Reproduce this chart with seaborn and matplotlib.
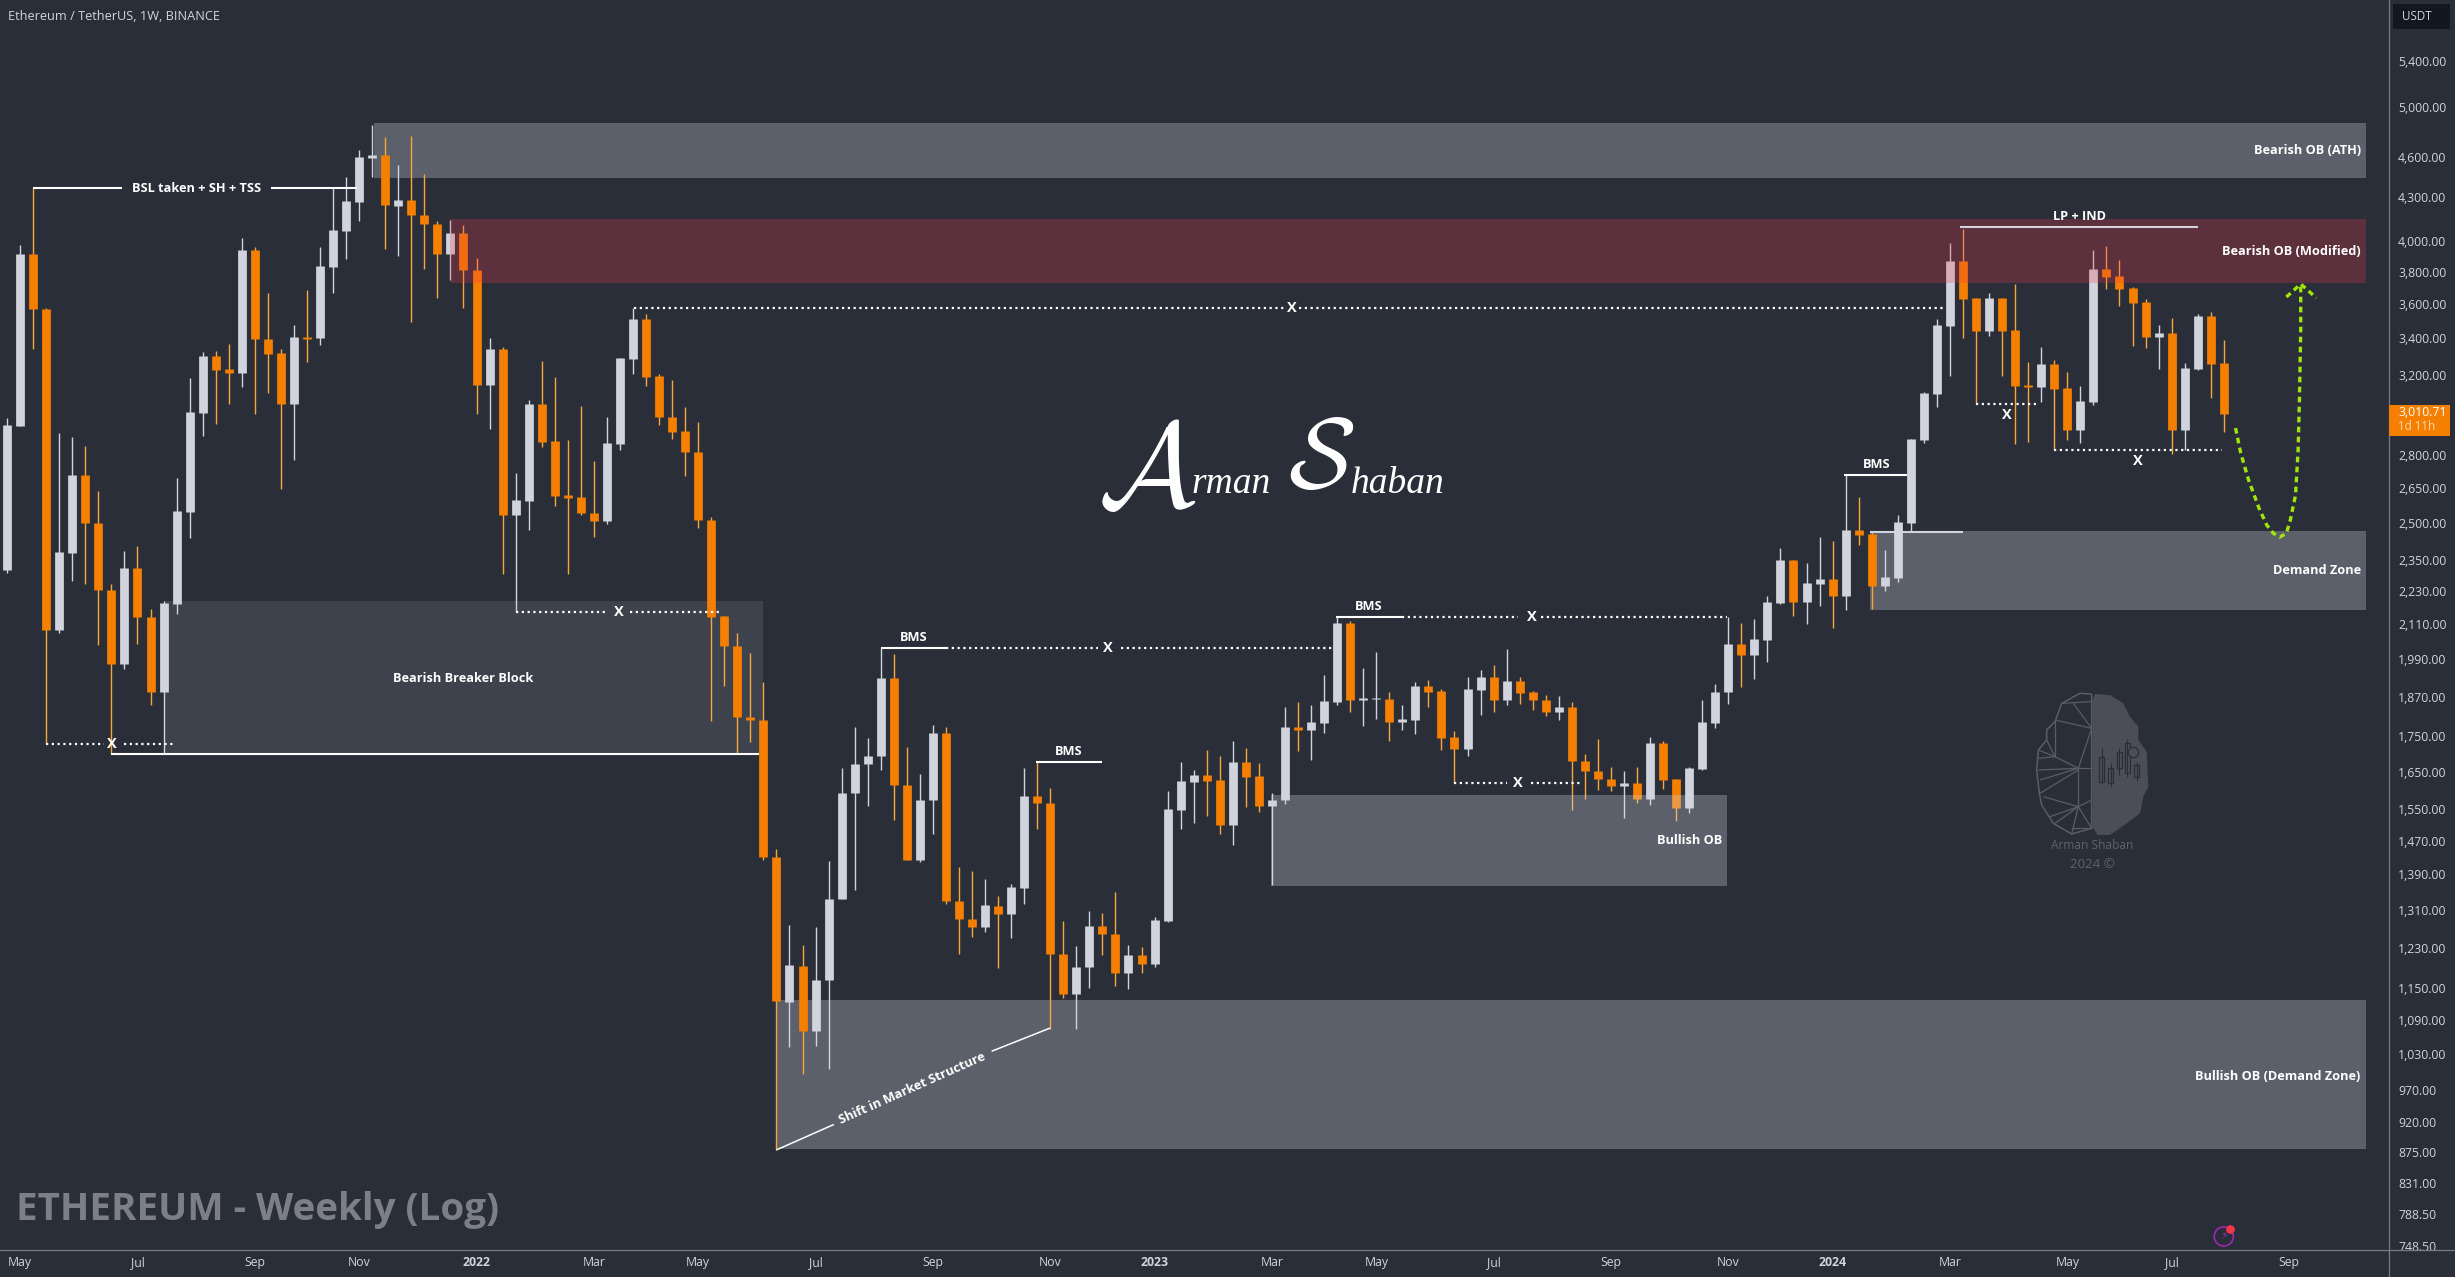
import numpy as np
import pandas as pd
import seaborn as sns
import matplotlib
matplotlib.use('Agg')
import matplotlib.pyplot as plt
from matplotlib.patches import Rectangle
from matplotlib.ticker import FixedLocator, NullLocator

# weekly ETH/USDT candles
open_ = [2311,2938,3913,3567,2091,2375,2706,2500,2235,1975,2317,2134,1886,2184,2546,3003,3301,3228,3207,
         3938,3393,3315,3049,3408,3401,3829,4069,4268,4595,4615,4240,4280,4179,4116,3910,4051,3812,3143,
         3340,2530,2593,3046,2863,2617,2608,2542,2506,2850,3283,3510,3192,2980,2911,2813,2512,2139,2035,
         1808,1799,1432,1124,1193,1071,1165,1334,1593,1671,1693,1929,1615,1423,1574,1759,1330,1291,1274,
         1319,1302,1360,1584,1565,1218,1139,1192,1276,1259,1180,1215,1197,1286,1548,1623,1641,1626,1510,
         1677,1637,1559,1574,1777,1769,1790,1854,2114,1858,1862,1864,1794,1799,1903,1887,1747,1715,1892,
         1932,1858,1920,1884,1859,1823,1837,1681,1653,1631,1611,1618,1577,1731,1629,1553,1657,1790,1885,
         2041,2004,2056,2186,2348,2191,2257,2274,2213,2469,2452,2250,2280,2499,2870,3099,3472,3867,3634,
         3443,3634,3445,3144,3136,3257,3127,2919,3058,3814,3769,3695,3609,3409,3428,2919,3230,3526,3260]
close = [2940,3913,3567,2091,2380,2706,2500,2235,1975,2317,2134,1886,2186,2548,3007,3301,3226,3209,3938,
         3393,3313,3049,3408,3398,3834,4072,4274,4601,4615,4243,4280,4179,4116,3910,4051,3812,3143,3340,
         2530,2596,3046,2861,2615,2606,2542,2508,2854,3290,3510,3188,2980,2908,2813,2512,2136,2035,1808,
         1799,1432,1125,1195,1071,1166,1334,1593,1671,1693,1929,1615,1423,1574,1759,1330,1291,1274,1320,
         1302,1361,1585,1565,1218,1139,1191,1276,1259,1180,1216,1198,1288,1550,1624,1641,1625,1510,1677,
         1636,1559,1575,1777,1770,1793,1857,2114,1858,1865,1865,1794,1801,1903,1885,1746,1715,1894,1932,
         1858,1920,1882,1858,1823,1837,1680,1653,1630,1611,1619,1577,1731,1628,1553,1659,1793,1886,2041,
         2006,2058,2189,2348,2191,2260,2275,2213,2469,2450,2250,2283,2502,2874,3101,3474,3867,3632,3443,
         3636,3443,3141,3134,3257,3125,2919,3062,3814,3767,3693,3607,3409,3428,2919,3235,3528,3258,2998]
high = [2977,3970,4368,3575,2902,2883,2840,2634,2255,2384,2405,2164,2192,2692,3182,3323,3328,3366,4016,
        3956,3666,3337,3475,3685,3961,4365,4447,4655,4851,4757,4538,4764,4470,4131,4140,4110,3888,3401,
        3349,2715,3066,3273,3186,2869,3035,2771,2981,3290,3578,3542,3201,3169,3031,2956,2522,2139,2081,
        2011,1915,1450,1277,1236,1274,1421,1659,1779,1745,2027,2007,1719,1644,1785,1779,1407,1397,1380,
        1340,1368,1659,1676,1605,1287,1233,1307,1303,1349,1235,1231,1294,1597,1677,1656,1710,1693,1738,
        1716,1674,1592,1837,1853,1844,1939,2135,2120,1962,2014,1884,1844,1916,1922,1894,1765,1932,1955,
        1971,2025,1932,1887,1875,1872,1853,1699,1741,1664,1652,1664,1747,1738,1631,1664,1861,1909,2135,
        2114,2127,2210,2396,2348,2335,2440,2424,2706,2609,2462,2388,2531,2875,3110,3509,3987,4079,3636,
        3664,3638,3722,3267,3350,3277,3213,3139,3939,3965,3874,3701,3628,3476,3516,3262,3538,3550,3390]
low = [2299,2938,3337,1728,2078,2269,2255,2039,1699,1959,2043,1843,1700,2148,2438,2890,2945,3049,3136,
       2998,3104,2646,2777,3266,3361,3669,3882,4137,4447,3947,3899,3495,3818,3637,3744,3577,2994,2923,
       2296,2154,2470,2834,2572,2296,2530,2441,2495,2824,3201,3137,2944,2876,2704,2479,1797,1902,1700,
       1735,1423,878,1043,997,1044,1005,1334,1355,1557,1654,1523,1423,1420,1486,1324,1218,1253,1262,
       1190,1250,1324,1500,1075,1131,1075,1151,1215,1154,1148,1180,1192,1284,1500,1515,1533,1487,1461,
       1556,1543,1366,1564,1709,1683,1760,1845,1823,1781,1802,1737,1769,1757,1838,1711,1620,1695,1814,
       1823,1845,1848,1830,1812,1799,1549,1577,1601,1598,1527,1567,1561,1604,1520,1540,1655,1776,1848,
       1901,1927,1982,2182,2140,2112,2176,2098,2162,2409,2165,2231,2265,2462,2853,3033,3194,3403,3048,
       3414,3194,2848,2861,3057,2821,2870,2856,3043,3693,3589,3358,3347,3231,2804,2821,3226,3079,2909]

price_ticks = [5400,5000,4600,4300,4000,3800,3600,3400,3200,2800,2650,2500,2350,2230,2110,1990,1870,1750,
               1650,1550,1470,1390,1310,1230,1150,1090,1030,970,920,875,831,788.5,748.5]
time_pos = [1,10,19,27,36,45,53,62,71,80,88,97,105,114,123,132,140,149,158,166,175]
time_labels = ['May','Jul','Sep','Nov','2022','Mar','May','Jul','Sep','Nov','2023','Mar','May','Jul','Sep',
               'Nov','2024','Mar','May','Jul','Sep']

# zones: first candle, last candle, top price, bottom price
zone_ath = (28.1, 180.9, 4868, 4441)
zone_red = (34.0, 180.9, 4148, 3728)
zone_breaker = (12.0, 58.0, 2193, 1699)
zone_bull_ob = (96.9, 131.9, 1587, 1363)
zone_bull_demand = (59.0, 180.9, 1127, 880)
zone_demand = (142.9, 180.9, 2465, 2160)

# structure lines: from, to, price
solid_lines = [(2.0,8.8,4368),(20.2,26.8,4368),(8.0,57.7,1699),(67.0,72.0,2028),(78.9,84.0,1676),
               (101.9,107.0,2137),(140.9,145.7,2706)]
grey_lines = [(142.9,150.0,2461),(149.8,168.0,4095)]
dotted_lines = [(3.0,7.4,1729),(9.0,12.9,1729),(48.1,97.9,3575),(99.1,148.5,3575),(39.0,46.1,2153),
                (47.8,54.8,2153),(72.0,83.7,2028),(85.4,101.6,2028),(107.0,115.9,2137),(117.6,131.9,2137),
                (111.0,115.0,1620),(116.9,120.8,1620),(151.0,155.7,3047),(157.0,169.9,2821)]
x_marks = [(8.0,1729),(98.5,3575),(46.9,2153),(84.4,2028),(116.9,2137),(115.9,1620),(153.4,2991),(163.4,2770)]

curve_x = [170.9,171.3,171.9,172.7,173.3,173.8,174.3,174.8,175.1,175.5,175.7,175.8,175.9,175.9]
curve_y = [2927,2807,2684,2561,2489,2456,2440,2456,2510,2617,2821,3067,3447,3709]
arrow_x = [174.8,175.9,177.1]
arrow_y = [3642,3722,3636]

BG = '#2a2e39'
WHITE = '#d1d4dc'
ORANGE = '#f57f00'
WICK_ORANGE = '#f7a63c'
AXIS = '#787b86'
W, H = 2455, 1277

sns.set_theme(style='dark', rc={'axes.facecolor': BG, 'figure.facecolor': BG, 'lines.solid_capstyle': 'butt'})
plt.rcParams['font.family'] = ['Open Sans', 'DejaVu Sans']
plt.rcParams['mathtext.fontset'] = 'cm'

fig = plt.figure(figsize=(W/100, H/100), dpi=100)
ax = fig.add_axes([0, 1-1250/H, 2389/W, 1250/H])
ax.set_yscale('log')

# zones under the candles
def zone(z, color, alpha, order):
    ax.fill_between(z[:2], z[3], z[2], color=color, alpha=alpha, lw=0, zorder=order)

zone(zone_ath, WHITE, 0.30, 1)
zone(zone_breaker, WHITE, 0.125, 1)
zone(zone_bull_demand, WHITE, 0.30, 1)
zone(zone_demand, WHITE, 0.30, 1)

idx = np.arange(len(open_))
direction = np.where(np.array(close) >= np.array(open_), 'up', 'down')
wicks = pd.DataFrame({'i': np.repeat(idx, 2), 'price': np.column_stack([low, high]).ravel(),
                      'dir': np.repeat(direction, 2)})
bodies = pd.DataFrame({'i': np.repeat(idx, 2), 'price': np.column_stack([open_, close]).ravel(),
                       'dir': np.repeat(direction, 2)})
sns.lineplot(data=wicks, x='i', y='price', hue='dir', units='i', estimator=None, sort=False,
             palette={'up': WHITE, 'down': WICK_ORANGE}, linewidth=1.0, legend=False, ax=ax, zorder=3)
sns.lineplot(data=bodies, x='i', y='price', hue='dir', units='i', estimator=None, sort=False,
             palette={'up': WHITE, 'down': ORANGE}, linewidth=6.3, legend=False, ax=ax, zorder=4)

# these two sit on top of the candles
zone(zone_red, '#f23645', 0.25, 5)
zone(zone_bull_ob, WHITE, 0.30, 5)

for x0, x1, p in solid_lines:
    ax.plot([x0, x1], [p, p], color='white', lw=1.5, zorder=6)
for x0, x1, p in grey_lines:
    ax.plot([x0, x1], [p, p], color=WHITE, lw=1.5, zorder=6)
for x0, x1, p in dotted_lines:
    ax.plot([x0, x1], [p, p], color='white', lw=1.6, ls=(0, (1, 1.6)), zorder=6)
ax.plot([59.0, 63.4], [878, 916], color='white', lw=1.1, zorder=6)
ax.plot([75.5, 80.0], [1035, 1076], color='white', lw=1.1, zorder=6)

bold = dict(color='white', fontweight='bold', fontsize=9.2, va='center', zorder=7)
ax.text(14.5, 4368, 'BSL taken + SH + TSS', ha='center', **bold)
ax.text(35.0, 1927, 'Bearish Breaker Block', ha='center', **bold)
ax.text(69.5, 2064, 'BMS', ha='center', **bold)
ax.text(81.4, 1706, 'BMS', ha='center', **bold)
ax.text(104.4, 2173, 'BMS', ha='center', **bold)
ax.text(143.4, 2754, 'BMS', ha='center', **bold)
ax.text(158.9, 4165, 'LP + IND', ha='center', **bold)
ax.text(180.5, 4650, 'Bearish OB (ATH)', ha='right', **bold)
ax.text(180.5, 3929, 'Bearish OB (Modified)', ha='right', **bold)
ax.text(180.5, 2307, 'Demand Zone', ha='right', **bold)
ax.text(180.5, 993, 'Bullish OB (Demand Zone)', ha='right', **bold)
ax.text(131.5, 1470, 'Bullish OB', ha='right', **bold)
ax.text(69.4, 973, 'Shift in Market Structure', ha='center', rotation=24, rotation_mode='anchor', **bold)
for x, p in x_marks:
    ax.text(x, p, 'X', ha='center', color='white', fontweight='bold', fontsize=10.5, va='center', zorder=7)

# projected path
ax.plot(curve_x, curve_y, color='#a0e60a', lw=2.4, ls=(0, (1.7, 1.3)), zorder=7)
ax.plot(arrow_x, arrow_y, color='#a0e60a', lw=2.4, ls=(0, (1.7, 1.3)), zorder=7)

# signature
ax.text(87.4, 2706, r'$\mathcal{A}$', color='white', fontsize=86, ha='center', va='center', zorder=7)
ax.text(100.8, 2766, r'$\mathcal{S}$', color='white', fontsize=72, ha='center', va='center', zorder=7)
ax.text(93.9, 2626, 'rman', color='white', fontsize=27, family='Liberation Serif', style='italic',
        ha='center', va='baseline', zorder=7)
ax.text(106.6, 2626, 'haban', color='white', fontsize=27, family='Liberation Serif', style='italic',
        ha='center', va='baseline', zorder=7)

# small alert icon near the bottom
ax.scatter([170.0], [760], s=190, facecolors='none', edgecolors='#9c27b0', linewidths=1.2, zorder=7)
ax.scatter([170.5], [769], s=28, color='#f23645', zorder=8)
ax.text(170.0, 760, '\u26a1', color='#9c27b0', fontsize=8, ha='center', va='center',
        family='DejaVu Sans', zorder=8)

ax.text(0.7, 794, 'ETHEREUM - Weekly (Log)', color='#7c7f88', fontweight='bold', fontsize=27.7,
        ha='left', va='center', zorder=7)
ax.text(0.0035, 0.9865, 'Ethereum / TetherUS, 1W, BINANCE', color=WHITE, fontsize=9.2,
        transform=ax.transAxes, ha='left', va='center', zorder=7)

ax.set_xlim(-0.545, 182.67)
ax.set_ylim(743, 5977)
ax.set(xlabel='', ylabel='')
ax.xaxis.set_major_locator(NullLocator())
ax.yaxis.tick_right()
ax.yaxis.set_major_locator(FixedLocator(price_ticks))
ax.yaxis.set_minor_locator(NullLocator())
ax.set_yticklabels([f'{v:,.2f}' for v in price_ticks])
ax.tick_params(axis='y', length=0, pad=6.5, labelsize=8.8, labelcolor=WHITE)
for name, spine in ax.spines.items():
    spine.set_visible(name == 'right')
    spine.set_color(AXIS)
    spine.set_linewidth(0.9)

# time strip, also hides the cut-off last price label
ax_time = fig.add_axes([0, 0, 1, 27/H], zorder=5)
ax_time.set_facecolor(BG)
ax_time.set_xlim(-0.545, (W-7.1)/13.04)
ax_time.set_ylim(0, 1)
ax_time.set_yticks([])
ax_time.set_xticks(time_pos, time_labels)
ax_time.tick_params(axis='x', length=0, pad=-15, labelsize=8.8, labelcolor=WHITE)
for lab in ax_time.get_xticklabels():
    if lab.get_text().isdigit():
        lab.set_fontweight('bold')
for name, spine in ax_time.spines.items():
    spine.set_visible(name == 'top')
    spine.set_color(AXIS)
    spine.set_linewidth(0.9)
ax_time.axvline(182.67, color=AXIS, lw=0.9)

# price axis boxes
def fig_rect(x, y, w, h, color):
    fig.add_artist(Rectangle((x/W, 1-(y+h)/H), w/W, h/H, transform=fig.transFigure, color=color, lw=0, zorder=6))

fig_rect(2393, 4, 57, 25, '#131722')
fig.text(2402/W, 1-17/H, 'USDT', color=WHITE, fontsize=8.4, va='center', zorder=7)
fig_rect(2389, 405, 61, 31, ORANGE)
fig.text(2398/W, 1-413/H, '3,010.71', color='white', fontsize=8.8, va='center', zorder=7)
fig.text(2398/W, 1-427/H, '1d 11h', color='#ffd9a8', fontsize=8.4, va='center', zorder=7)

# watermark logo in its own little frame
ax_logo = fig.add_axes([2010/W, 1-880/H, 170/W, 200/H], zorder=2)
ax_logo.set_xlim(0, 510)
ax_logo.set_ylim(600, 0)
ax_logo.axis('off')
blob_x = [255,300,340,360,385,385,410,415,400,390,350,300,262,248,248,255]
blob_y = [42,45,70,110,140,180,215,320,350,400,430,465,465,440,60,42]
ax_logo.fill(blob_x, blob_y, color='#4b4e59', lw=0)
mesh_x = [245,210,155,135,110,110,85,80,88,95,130,185,245,245]
mesh_y = [42,40,70,125,150,180,210,270,340,375,430,462,445,42]
ax_logo.plot(mesh_x, mesh_y, color='#5a5d68', lw=1.1)
mesh_edges = [(245,145,135,120),(155,70,245,65),(190,70,245,145),(245,145,205,265),(205,265,85,270),
              (205,265,90,300),(205,265,245,265),(110,180,135,230),(85,235,135,230),(135,120,135,230),
              (135,230,205,265),(85,210,135,230),(205,265,205,380),(205,380,100,350),(205,380,245,360),
              (205,380,135,430),(205,380,120,410),(205,380,185,462),(205,380,245,445),(245,445,185,445),
              (90,340,205,270)]
for x0, y0, x1, y1 in mesh_edges:
    ax_logo.plot([x0, x1], [y0, y1], color='#5a5d68', lw=0.9)
for x, t, b, lo, hi in [(275,230,305,205,310),(302,265,310,250,322),(328,215,265,205,285),
                        (352,190,280,178,290),(380,255,290,245,302)]:
    ax_logo.plot([x, x], [lo, hi], color=BG, lw=0.8)
    ax_logo.add_patch(Rectangle((x-7, t), 14, b-t, fill=False, edgecolor=BG, lw=0.9))
ax_logo.scatter([368], [215], s=55, facecolors='#4b4e59', edgecolors=BG, linewidths=0.9, zorder=3)
ax_logo.text(248, 497, 'Arman Shaban', color='#5f626d', fontsize=8.6, ha='center', va='center')
ax_logo.text(248, 555, '2024 \u00a9', color='#5f626d', fontsize=9.6, ha='center', va='center')

fig.savefig('out.png', facecolor=BG)
